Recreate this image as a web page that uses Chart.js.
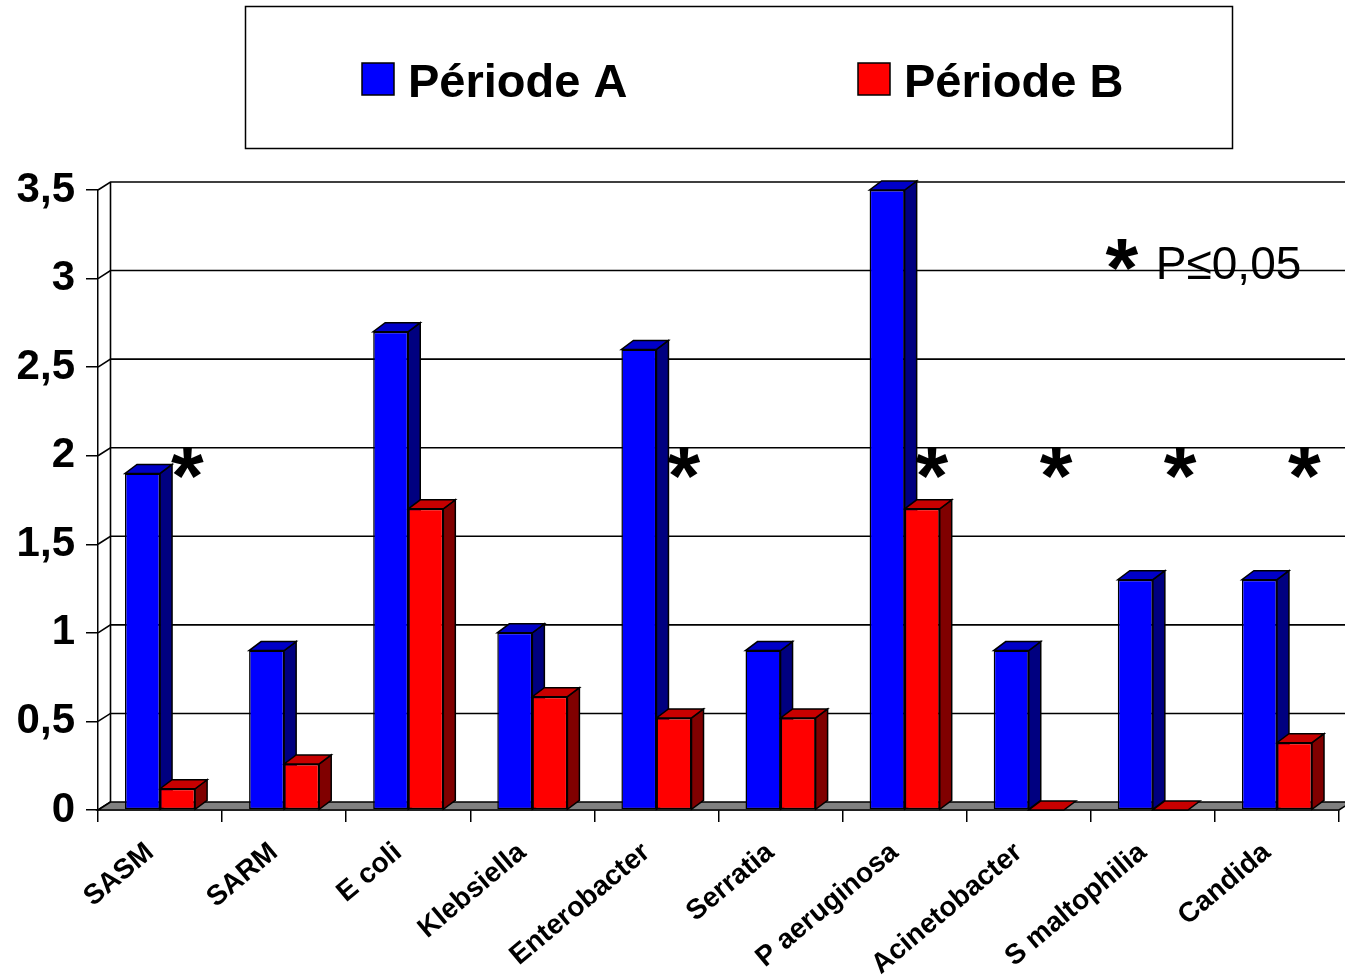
<!DOCTYPE html>
<html>
<head>
<meta charset="utf-8">
<script src="https://cdn.jsdelivr.net/npm/chart.js@4.4.1/dist/chart.umd.min.js"></script>
<style>
  html, body { margin: 0; padding: 0; background: #fff; }
  #wrap { width: 1345px; height: 979px; position: relative; }
  canvas { display: block; }
</style>
</head>
<body>
<div id="wrap"><canvas id="chart" width="1345" height="979"></canvas></div>
<script>
// Germs (categories) and incidence per period
const categories = ['SASM', 'SARM', 'E coli', 'Klebsiella', 'Enterobacter', 'Serratia',
                    'P aeruginosa', 'Acinetobacter', 'S maltophilia', 'Candida'];
const seriesNames = ['Période A', 'Période B'];
const periodA = [1.9, 0.9, 2.7, 1.0, 2.6, 0.9, 3.5, 0.9, 1.3, 1.3];
const periodB = [0.12, 0.26, 1.7, 0.64, 0.52, 0.52, 1.7, 0, 0, 0.38];
const yTickLabels = ['0', '0,5', '1', '1,5', '2', '2,5', '3', '3,5'];
// 1 = significant difference between the two periods
const significant = [1, 0, 0, 0, 1, 0, 1, 1, 1, 1];
const noteText = 'P≤0,05';

const FONT = '"Liberation Sans", Arial, Helvetica, sans-serif';
const COLORS = {
  A: { front: '#0000FF', top: '#0000C8', side: '#000080' },
  B: { front: '#FF0000', top: '#C80000', side: '#800000' }
};
// oblique projection of the depth axis
const BAR_DX = 12, BAR_DY = -9;
const WALL_DX = 12.5, WALL_DY = -8;

function poly(ctx, pts, fill) {
  ctx.beginPath();
  ctx.moveTo(pts[0][0], pts[0][1]);
  for (let i = 1; i < pts.length; i++) ctx.lineTo(pts[i][0], pts[i][1]);
  ctx.closePath();
  if (fill) { ctx.fillStyle = fill; ctx.fill(); }
  ctx.stroke();
}

const threeD = {
  id: 'threeD',
  beforeDatasetsDraw(chart) {
    const ctx = chart.ctx, area = chart.chartArea;
    const ys = chart.scales.y;
    ctx.save();
    ctx.strokeStyle = '#000';
    ctx.lineWidth = 1.6;
    ctx.lineJoin = 'miter';
    // back wall grid and left wall
    const y0 = ys.getPixelForValue(0);
    const yTop = ys.getPixelForValue(ys.max);
    ctx.beginPath();
    ctx.moveTo(area.left + WALL_DX, yTop + WALL_DY);
    ctx.lineTo(area.left + WALL_DX, y0 + WALL_DY);
    ctx.stroke();
    ys.ticks.forEach(t => {
      const py = ys.getPixelForValue(t.value);
      ctx.beginPath();
      ctx.moveTo(area.left, py);
      ctx.lineTo(area.left + WALL_DX, py + WALL_DY);
      if (t.value !== 0) ctx.lineTo(chart.width + 20, py + WALL_DY);
      ctx.stroke();
    });
    // floor
    poly(ctx, [[area.left, y0], [area.right, y0], [area.right + WALL_DX, y0 + WALL_DY],
               [area.left + WALL_DX, y0 + WALL_DY]], '#808080');
    // top and side faces of the bars
    const metas = chart.data.datasets.map((d, i) => chart.getDatasetMeta(i));
    const pal = [COLORS.A, COLORS.B];
    ctx.lineWidth = 1.5;
    for (let i = 0; i < categories.length; i++) {
      metas.forEach((meta, di) => {
        const el = meta.data[i];
        const p = el.getProps(['x', 'y', 'base', 'width'], true);
        const l = p.x - p.width / 2, r = p.x + p.width / 2;
        const top = Math.min(p.y, p.base), base = Math.max(p.y, p.base);
        if (base - top > 0.5) {
          poly(ctx, [[r, top], [r + BAR_DX, top + BAR_DY], [r + BAR_DX, base + BAR_DY], [r, base]], pal[di].side);
        }
        poly(ctx, [[l, top], [r, top], [r + BAR_DX, top + BAR_DY], [l + BAR_DX, top + BAR_DY]], pal[di].top);
      });
    }
    ctx.restore();
  },
  afterDatasetsDraw(chart) {
    const ctx = chart.ctx;
    const xs = chart.scales.x, ys = chart.scales.y;
    ctx.save();
    ctx.fillStyle = '#000';
    // significance marks
    ctx.font = 'bold 84px ' + FONT;
    ctx.textAlign = 'center';
    ctx.textBaseline = 'alphabetic';
    const m = ctx.measureText('*');
    const asc = m.actualBoundingBoxAscent;
    const step = xs.getPixelForValue(1) - xs.getPixelForValue(0);
    significant.forEach((s, i) => {
      if (!s) return;
      const cx = xs.getPixelForValue(i) + step * 0.22;
      const topY = ys.getPixelForValue(2) + WALL_DY - 1;
      ctx.fillText('*', cx, topY + asc);
    });
    // note
    const noteX = xs.getPixelForValue(8) + 3;
    const noteY = ys.getPixelForValue(3);
    ctx.fillText('*', noteX - 34, noteY - 40 + asc);
    ctx.font = '46px ' + FONT;
    ctx.textAlign = 'left';
    ctx.fillText(noteText, noteX, noteY);

    // legend
    ctx.strokeStyle = '#000';
    ctx.lineWidth = 1.5;
    ctx.strokeRect(245.5, 6.5, 987, 142);
    const items = [{ x: 362, c: COLORS.A.front }, { x: 858, c: COLORS.B.front }];
    ctx.font = 'bold 47px ' + FONT;
    items.forEach((it, i) => {
      ctx.fillStyle = it.c;
      ctx.fillRect(it.x, 63, 32, 32);
      ctx.strokeRect(it.x, 63, 32, 32);
      ctx.fillStyle = '#000';
      ctx.fillText(chart.data.datasets[i].label, it.x + 46, 97);
    });
    ctx.restore();
  }
};

new Chart(document.getElementById('chart'), {
  type: 'bar',
  data: {
    labels: categories,
    datasets: [
      { label: seriesNames[0], data: periodA, backgroundColor: COLORS.A.front,
        borderColor: '#000', borderWidth: 1.5, borderSkipped: false },
      { label: seriesNames[1], data: periodB, backgroundColor: COLORS.B.front,
        borderColor: '#000', borderWidth: 1.5, borderSkipped: false }
    ]
  },
  options: {
    responsive: false,
    animation: false,
    devicePixelRatio: 1,
    datasets: { bar: { categoryPercentage: 0.565, barPercentage: 1.0 } },
    layout: { padding: { top: 190, right: 6, left: 0, bottom: 0 } },
    plugins: { legend: { display: false }, tooltip: { enabled: false } },
    scales: {
      x: {
        offset: true,
        grid: { offset: true, drawOnChartArea: false, drawTicks: true, tickLength: 12,
                color: '#000', lineWidth: 1.5 },
        border: { display: true, color: '#000', width: 1.5 },
        ticks: { autoSkip: false, minRotation: 40, maxRotation: 40, color: '#000', padding: 14,
                 labelOffset: -10,
                 font: { family: FONT, size: 28, weight: 'bold' } },
        afterFit(s) { s.height = 169; }
      },
      y: {
        min: 0, max: 3.5,
        grid: { drawOnChartArea: false, drawTicks: true, tickLength: 12, color: '#000', lineWidth: 1.5 },
        border: { display: true, color: '#000', width: 1.5 },
        ticks: { stepSize: 0.5, color: '#000', padding: 11,
                 font: { family: FONT, size: 42, weight: 'bold' },
                 callback: (v, i) => yTickLabels[i] },
        afterFit(s) { s.width = 98; }
      }
    }
  },
  plugins: [threeD]
});
</script>
</body>
</html>
